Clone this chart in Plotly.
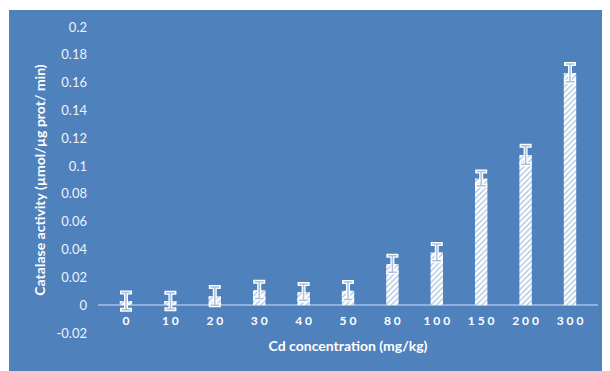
import plotly.graph_objects as go

categories = ["0", "10", "20", "30", "40", "50", "80", "100", "150", "200", "300"]
catalase = [0.003, 0.003, 0.0065, 0.0108, 0.0094, 0.0104, 0.0296, 0.038, 0.091, 0.108, 0.167]
errors = [0.0062, 0.006, 0.0065, 0.006, 0.0058, 0.0063, 0.006, 0.006, 0.0052, 0.0066, 0.0064]
y_ticks = [-0.02, 0, 0.02, 0.04, 0.06, 0.08, 0.1, 0.12, 0.14, 0.16, 0.18, 0.2]
y_ticktext = ["-0.02", "0", "0.02", "0.04", "0.06", "0.08", "0.1", "0.12", "0.14", "0.16", "0.18", "0.2"]

BG = "#4F81BD"
FONT = "Lato"

# the page body adds an 8px offset; figure sized to fill the remaining window
W, H = 602, 363
L, R, T, B = 90, 12, 19, 38
PW, PH = W - L - R, H - T - B

fig = go.Figure()
fig.add_trace(go.Bar(
    x=categories, y=catalase,
    marker=dict(color="white", line=dict(width=0),
                pattern=dict(shape="/", fgcolor=BG, bgcolor="white", size=4, solidity=0.3)),
    error_y=dict(type="data", array=errors, visible=True, color="white", thickness=4, width=6),
    showlegend=False, hoverinfo="skip",
))
fig.add_trace(go.Scatter(
    x=categories, y=catalase, mode="markers",
    marker=dict(size=1, color="rgba(0,0,0,0)"),
    error_y=dict(type="data", array=errors, visible=True, color="#a9c1e3", thickness=1.5, width=4.5),
    showlegend=False, hoverinfo="skip",
))

fig.update_layout(
    width=W, height=H,
    margin=dict(l=L, r=R, t=T, b=B),
    paper_bgcolor=BG, plot_bgcolor=BG,
    bargap=0.72,
    font=dict(family=FONT, color="white"),
    xaxis=dict(
        type="category", anchor="free", position=0.02 / 0.22,
        showline=False, showgrid=False, ticks="", zeroline=False,
        tickvals=categories, ticktext=[" ".join(c) for c in categories],
        tickfont=dict(family=FONT, size=12, color="white", weight="bold"),
        ticklabelstandoff=7,
        title=dict(text="Cd concentration (mg/kg)", standoff=14,
                   font=dict(family=FONT, size=14, color="white", weight="bold")),
    ),
    yaxis=dict(
        range=[-0.02, 0.2], showgrid=False, ticks="",
        tickvals=y_ticks, ticktext=y_ticktext,
        tickfont=dict(family=FONT, size=13, color="#eef3fa"),
        zeroline=True, zerolinecolor="#8fb0dc", zerolinewidth=1.5,
        ticklabelstandoff=10,
        title=dict(text="Catalase activity (µmol/µg prot/ min)", standoff=7,
                   font=dict(family=FONT, size=14, color="white", weight="bold")),
    ),
    shapes=[
        dict(type="rect", xref="paper", yref="paper", x0=-0.3, x1=1.1,
             y0=(PH + T - 2) / PH, y1=1.3, fillcolor="white", line=dict(width=0), layer="below"),
        dict(type="rect", xref="paper", yref="paper", x0=-0.3, x1=(1 - L) / PW,
             y0=-0.3, y1=1.3, fillcolor="white", line=dict(width=0), layer="below"),
    ],
)

fig.write_html("out.html")
